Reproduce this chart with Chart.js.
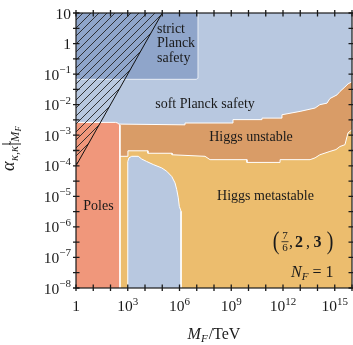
<!DOCTYPE html>
<html>
<head>
<meta charset="utf-8">
<title>Planck safety and Higgs stability</title>
<script src="https://cdn.jsdelivr.net/npm/chart.js@4.4.1/dist/chart.umd.min.js"></script>
<style>
  html, body { margin: 0; padding: 0; background: #fff; }
  canvas { display: block; }
</style>
</head>
<body>
<canvas id="plot" width="353" height="345"></canvas>
<script>
// ── Region boundaries ───────────────────────────────────────────────────
// each point is [log10(M_F / TeV), log10(alpha)]
const META_TOP = [[0, 1], [16, 1]];
const UNSTABLE_LO = [[0, -3.69], [3.01, -3.69], [3.01, -3.51], [4.17, -3.51], [4.17, -3.59],
    [5.57, -3.59], [5.57, -3.64], [7.48, -3.69], [7.77, -3.80], [9.91, -3.80], [9.91, -3.89],
    [11.83, -3.89], [11.83, -3.80], [13.57, -3.80], [13.86, -3.74], [14.14, -3.64], [14.72, -3.53],
    [15.07, -3.47], [15.30, -3.37], [15.59, -3.31], [15.71, -3.05], [15.77, -2.92], [16, -2.82]];
const SOFT_LO = [[0, -2.62], [6.32, -2.66], [6.32, -2.60], [9.10, -2.60], [9.10, -2.49],
    [10.78, -2.49], [10.78, -2.44], [11.94, -2.44], [11.94, -2.33], [12.99, -2.22], [13.86, -2.11],
    [14.14, -2.00], [14.55, -1.95], [14.72, -1.80], [15.13, -1.68], [15.30, -1.57], [15.59, -1.42],
    [15.77, -1.32], [16, -1.25]];
const STRICT_LO = [[0, -1.17], [6.97, -1.17], [7.05, -1.14], [7.07, -1.09], [7.07, 1]];
const INNER_TOP = [[3.00, -8], [3.00, -3.86], [3.07, -3.74], [3.23, -3.69], [3.61, -3.69],
    [3.81, -3.78], [4.10, -3.86], [4.48, -3.96], [4.97, -4.07], [5.26, -4.18], [5.55, -4.35],
    [5.74, -4.56], [5.84, -4.78], [5.93, -5.05], [5.99, -5.33], [6.09, -5.49], [6.09, -8]];
const POLES_TOP = [[0, -2.58], [2.30, -2.58], [2.45, -2.61], [2.53, -2.67], [2.55, -2.76], [2.55, -8]];
const HATCH_LO = [[0, -4], [5, 1]];

// ── Axes ────────────────────────────────────────────────────────────────
const X_TICK_EXP  = [0, 3, 6, 9, 12, 15];
const X_MINOR_EXP = [0, 1, 2, 3, 4, 5, 6, 7, 8, 9, 10, 11, 12, 13, 14, 15, 16];
const Y_TICK_EXP  = [1, 0, -1, -2, -3, -4, -5, -6, -7, -8];
const Y_MINOR_EXP = [1, 0.5, 0, -0.5, -1, -1.5, -2, -2.5, -3, -3.5, -4, -4.5, -5, -5.5, -6, -6.5, -7, -7.5, -8];

const C_META   = "#ecbd6e";
const C_UNST   = "#d99c67";
const C_SOFT   = "#b8c8e0";
const C_STRICT = "#8fa5ca";
const C_POLES  = "#f0977b";
const SERIF    = '"Liberation Serif", "DejaVu Serif", serif';
const INK      = "#1a1a1a";

const canvas = document.getElementById("plot");
const ctx0   = canvas.getContext("2d");

function makeHatch() {
    const s = 8, c = document.createElement("canvas");
    c.width = s; c.height = s;
    const g = c.getContext("2d");
    g.strokeStyle = "#222"; g.lineWidth = 0.9;
    g.beginPath();
    g.moveTo(0, s); g.lineTo(s, 0);
    g.moveTo(-1, 1); g.lineTo(1, -1);
    g.moveTo(s - 1, s + 1); g.lineTo(s + 1, s - 1);
    g.stroke();
    return ctx0.createPattern(c, "repeat");
}

const pts = arr => arr.map(([lx, ly]) => ({ x: 10 ** lx, y: 10 ** ly }));

function region(data, fill, bg, border, order, bw = 1) {
    return { data: pts(data), fill, backgroundColor: bg, borderColor: border,
             borderWidth: bw, pointRadius: 0, tension: 0, order };
}

// text made of runs with their own font and vertical shift
function runs(ctx, parts, x, y, align) {
    let w = 0;
    parts.forEach(p => { ctx.font = p.f; p.w = ctx.measureText(p.t).width; w += p.w + (p.gap || 0); });
    let cx = align === "right" ? x - w : align === "center" ? x - w / 2 : x;
    ctx.textAlign = "left"; ctx.textBaseline = "alphabetic";
    parts.forEach(p => { ctx.font = p.f; ctx.fillText(p.t, cx, y + (p.dy || 0)); cx += p.w + (p.gap || 0); });
}

const F_TICK = `15.5px ${SERIF}`, F_SUP = `11px ${SERIF}`;
function powRuns(e) {
    if (e === 0) return [{ t: "1", f: F_TICK }];
    if (e === 1) return [{ t: "10", f: F_TICK }];
    return [{ t: "10", f: F_TICK }, { t: String(e).replace("-", "\u2212"), f: F_SUP, dy: -6.5 }];
}

const decor = {
    id: "decor",
    afterDatasetsDraw(chart) {
        const { ctx, chartArea: a, scales: { x, y } } = chart;
        ctx.save();
        ctx.fillStyle = INK; ctx.strokeStyle = INK;

        // frame + ticks crossing the frame
        ctx.lineWidth = 1.2;
        ctx.strokeRect(a.left, a.top, a.right - a.left, a.bottom - a.top);
        ctx.lineWidth = 1.3;
        ctx.beginPath();
        X_MINOR_EXP.forEach(e => {
            const px = x.getPixelForValue(10 ** e);
            ctx.moveTo(px, a.bottom - 3.5); ctx.lineTo(px, a.bottom + 3);
            ctx.moveTo(px, a.top + 3.5); ctx.lineTo(px, a.top - 3);
        });
        Y_MINOR_EXP.forEach(e => {
            const py = y.getPixelForValue(10 ** e);
            ctx.moveTo(a.left - 3, py); ctx.lineTo(a.left + 3.5, py);
            ctx.moveTo(a.right + 3, py); ctx.lineTo(a.right - 3.5, py);
        });
        ctx.stroke();

        // tick labels
        X_TICK_EXP.forEach(e => runs(ctx, powRuns(e), x.getPixelForValue(10 ** e), a.bottom + 23, "center"));
        Y_TICK_EXP.forEach(e => runs(ctx, powRuns(e), a.left - 5, y.getPixelForValue(10 ** e) + 5.5, "right"));

        // axis titles
        const F_T = `16px ${SERIF}`, F_TI = `italic 16px ${SERIF}`;
        runs(ctx, [{ t: "M", f: F_TI }, { t: "F", f: `italic 11px ${SERIF}`, dy: 3.5, gap: 1 },
                   { t: "/TeV", f: F_T }], (a.left + a.right) / 2, 338.5, "center");
        ctx.save();
        ctx.translate(14, (a.top + a.bottom) / 2 - 2);
        ctx.rotate(-Math.PI / 2);
        runs(ctx, [{ t: "\u03b1", f: `italic 18px ${SERIF}`, gap: 0.5 },
                   { t: "\u03ba,\u03ba\u0303", f: `italic 12.5px ${SERIF}`, dy: 4 },
                   { t: "|", f: `20px ${SERIF}`, dy: 2 }, { t: "M", f: `italic 12.5px ${SERIF}`, dy: 4.5 },
                   { t: "F", f: `italic 9px ${SERIF}`, dy: 6.5 }], 0, 0, "center");
        ctx.restore();

        // region names
        ctx.font = `14px ${SERIF}`; ctx.textBaseline = "middle";
        ctx.textAlign = "left";
        ctx.fillText("strict", 157, 29);
        ctx.fillText("Planck", 157, 43.5);
        ctx.fillText("safety", 157, 58);
        ctx.textAlign = "center";
        ctx.fillText("soft Planck safety", 205, 104);
        ctx.fillText("Higgs unstable", 251, 137);
        ctx.fillText("Higgs metastable", 265.5, 196);
        ctx.fillText("Poles", 98.5, 206);

        // representation label
        ctx.textBaseline = "alphabetic"; ctx.textAlign = "center";
        ctx.save();
        ctx.font = `20px ${SERIF}`;
        ctx.translate(0, 248.5); ctx.scale(1, 1.3);
        ctx.fillText("(", 276, 0);
        ctx.fillText(")", 330, 0);
        ctx.restore();
        ctx.font = `11px ${SERIF}`;
        ctx.fillText("7", 285, 238.5);
        ctx.fillText("6", 285, 250.5);
        ctx.lineWidth = 0.8;
        ctx.beginPath(); ctx.moveTo(281.5, 241.7); ctx.lineTo(288.5, 241.7); ctx.stroke();
        ctx.font = `16px ${SERIF}`;
        ctx.fillText(",", 291, 246.5);
        ctx.fillText(",", 308, 246.5);
        ctx.font = `bold 16px ${SERIF}`;
        ctx.fillText("2", 299, 246.5);
        ctx.fillText("3", 317.5, 246.5);
        runs(ctx, [{ t: "N", f: `italic 16px ${SERIF}` }, { t: "F", f: `italic 11px ${SERIF}`, dy: 3, gap: 4 },
                   { t: "= 1", f: `16px ${SERIF}` }], 333.5, 277, "right");
        ctx.restore();
    }
};

new Chart(canvas, {
    type: "line",
    data: {
        datasets: [
            region(META_TOP, "start", C_META, "transparent", 10, 0),
            region(UNSTABLE_LO, "end", C_UNST, "#ffffff", 9),
            region(SOFT_LO, "end", C_SOFT, "#ffffff", 8),
            region(STRICT_LO, "end", C_STRICT, "rgba(255,255,255,0.75)", 7),
            region(INNER_TOP, "start", C_SOFT, "#ffffff", 6),
            region(POLES_TOP, "start", C_POLES, "#ffffff", 5),
            region(HATCH_LO, "end", makeHatch(), "#111111", 4),
        ],
    },
    options: {
        responsive: false, devicePixelRatio: 1, animation: false,
        layout: { padding: { left: 76, right: 1, top: 13, bottom: 57 } },
        plugins: { legend: { display: false }, tooltip: { enabled: false } },
        scales: {
            x: { type: "logarithmic", min: 1, max: 1e16, display: false },
            y: { type: "logarithmic", min: 1e-8, max: 10, display: false },
        },
    },
    plugins: [decor],
});
</script>
</body>
</html>
